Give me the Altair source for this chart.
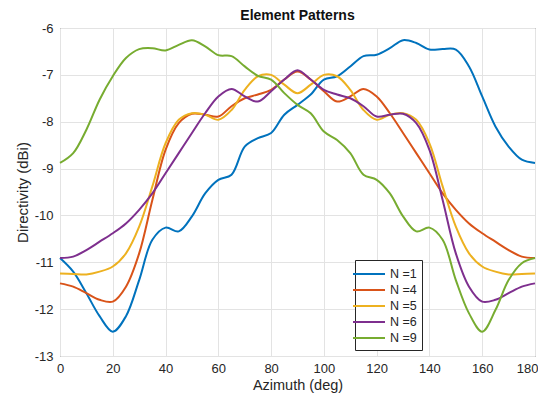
import altair as alt
import pandas as pd

azimuth = list(range(0, 181, 5))

n1 = [-10.91, -11.2, -11.66, -12.15, -12.48, -12.15, -11.38, -10.52, -10.26, -10.34,
      -10.02, -9.53, -9.24, -9.13, -8.53, -8.35, -8.24, -7.85, -7.64, -7.42,
      -7.1, -7.03, -6.82, -6.6, -6.57, -6.43, -6.26, -6.32, -6.46, -6.45,
      -6.46, -6.82, -7.46, -8.1, -8.53, -8.81, -8.88]
n4 = [-11.45, -11.52, -11.66, -11.8, -11.84, -11.52, -10.81, -9.67, -8.6, -8.03,
      -7.83, -7.85, -7.89, -7.67, -7.5, -7.42, -7.32, -7.1, -6.93, -7.1,
      -7.35, -7.57, -7.46, -7.3, -7.46, -7.82, -8.24, -8.67, -9.1, -9.53,
      -9.88, -10.17, -10.38, -10.56, -10.74, -10.88, -10.91]
n5 = [-11.24, -11.25, -11.26, -11.2, -11.09, -10.81, -10.24, -9.38, -8.46, -7.96,
      -7.82, -7.85, -7.96, -7.75, -7.32, -7.03, -7.0, -7.21, -7.39, -7.21,
      -7.0, -7.03, -7.32, -7.75, -7.96, -7.85, -7.82, -7.96, -8.46, -9.38,
      -10.24, -10.81, -11.09, -11.2, -11.26, -11.25, -11.24]
n6 = [-10.91, -10.88, -10.74, -10.56, -10.38, -10.17, -9.88, -9.53, -9.1, -8.67,
      -8.24, -7.82, -7.46, -7.3, -7.46, -7.57, -7.35, -7.1, -6.9, -7.1,
      -7.32, -7.42, -7.5, -7.67, -7.89, -7.85, -7.83, -8.03, -8.6, -9.67,
      -10.81, -11.52, -11.84, -11.8, -11.66, -11.52, -11.45]
n9 = [-8.88, -8.67, -8.17, -7.53, -7.03, -6.64, -6.45, -6.43, -6.48, -6.36,
      -6.26, -6.39, -6.58, -6.6, -6.82, -7.02, -7.1, -7.39, -7.64, -7.82,
      -8.21, -8.39, -8.67, -9.13, -9.24, -9.53, -10.02, -10.34, -10.26, -10.52,
      -11.38, -12.09, -12.48, -12.02, -11.38, -11.02, -10.91]

series_names = ["N =1", "N =4", "N =5", "N =6", "N =9"]
series_values = [n1, n4, n5, n6, n9]
colors = ["#0072BD", "#D95319", "#EDB120", "#7E2F8E", "#77AC30"]
x_ticks = list(range(0, 181, 20))
y_ticks = list(range(-13, -5))

rows = []
for name, vals in zip(series_names, series_values):
    for a, v in zip(azimuth, vals):
        rows.append({"Azimuth": a, "Directivity": v, "Series": name})
df = pd.DataFrame(rows)

font = "Liberation Sans"

chart = alt.Chart(df).mark_line(strokeWidth=2, interpolate="catmull-rom").encode(
    x=alt.X("Azimuth:Q",
            scale=alt.Scale(domain=[0, 180], nice=False, zero=False),
            axis=alt.Axis(values=x_ticks, title="Azimuth (deg)", grid=True,
                          ticks=False, domain=False, labelPadding=6,
                          titlePadding=3, labelFontSize=13, titleFontSize=14.5,
                          labelFlush=False,
                          labelAlign={"condition": {"test": "datum.value == 180", "value": "right"},
                                      "value": "center"},
                          labelOffset={"condition": {"test": "datum.value == 180", "value": 3},
                                       "value": 0})),
    y=alt.Y("Directivity:Q",
            scale=alt.Scale(domain=[-13, -6], nice=False, zero=False),
            axis=alt.Axis(values=y_ticks, title="Directivity (dBi)", grid=True,
                          ticks=False, domain=False, labelPadding=7,
                          titlePadding=4, labelFontSize=13, titleFontSize=15,
                          labelExpr="datum.value + ''")),
    color=alt.Color("Series:N",
                    scale=alt.Scale(domain=series_names, range=colors),
                    legend=alt.Legend(title=None, orient="none",
                                      legendX=295, legendY=232,
                                      symbolType="M-2,0H2",
                                      symbolSize=256, symbolStrokeWidth=2,
                                      labelOffset=12, labelFontSize=12.5,
                                      rowPadding=0, padding=5,
                                      fillColor="white", strokeColor="#262626",
                                      cornerRadius=0)),
).properties(
    width=475,
    height=328,
    title=alt.TitleParams("Element Patterns", fontSize=14, fontWeight="bold",
                          font=font, color="#111111", offset=-1, anchor="middle"),
    padding={"left": 52, "top": 20, "right": 3, "bottom": 38},
    autosize=alt.AutoSizeParams(type="none"),
).configure_view(
    stroke="#4d4d4d", strokeWidth=1
).configure_axis(
    labelFont=font, titleFont=font, labelColor="#262626", titleColor="#262626",
    gridColor="#e3e3e3", gridWidth=1, titleFontWeight="normal"
).configure_legend(
    labelFont=font, labelColor="#262626"
)

chart.save("out.html", embed_options={"renderer": "svg", "actions": False})
